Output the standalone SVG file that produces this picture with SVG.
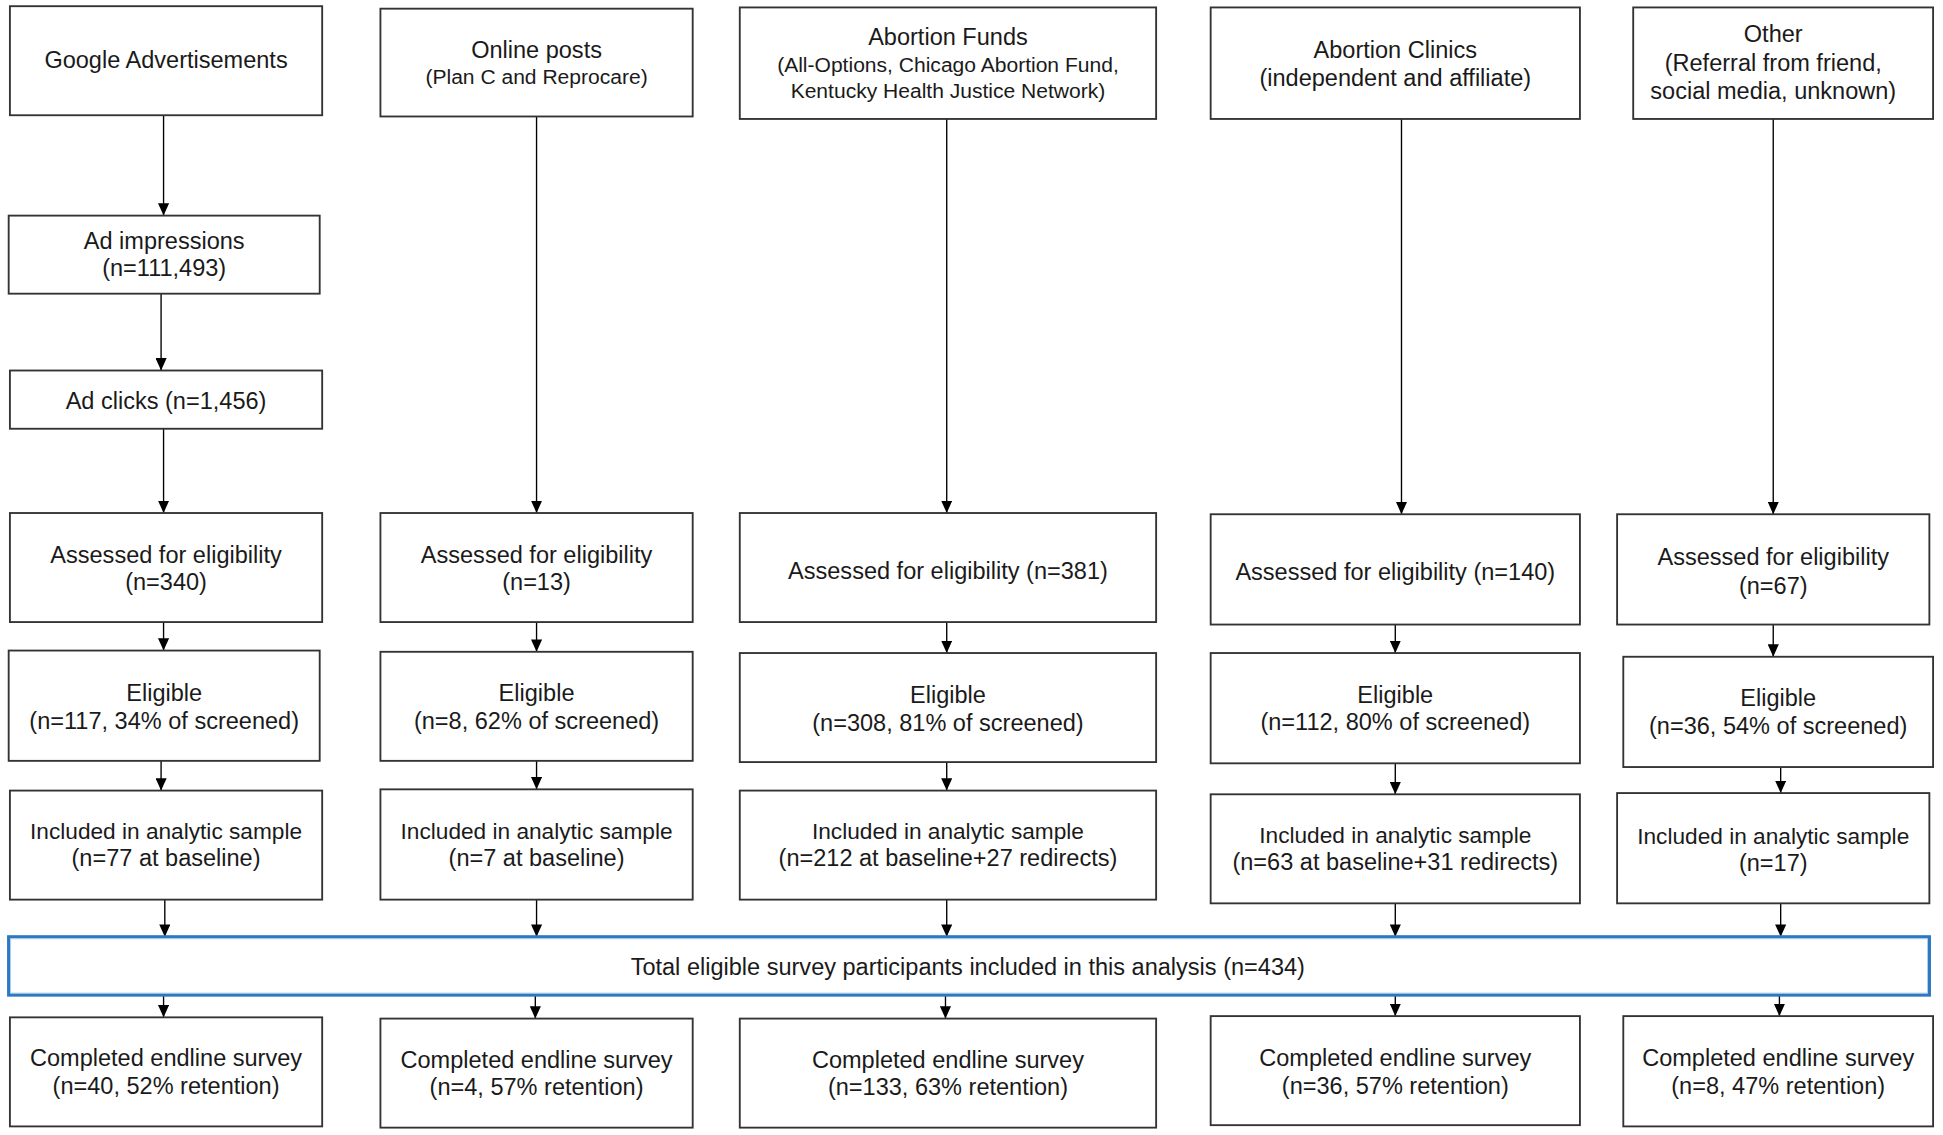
<svg xmlns="http://www.w3.org/2000/svg" width="1943" height="1135" viewBox="0 0 1943 1135">
<defs>
<marker id="ah" markerUnits="userSpaceOnUse" markerWidth="10" markerHeight="9" refX="10" refY="4.5" orient="auto">
<path d="M0,0 L10,4.5 L0,9 z" fill="#000"/>
</marker>
<style>
.b{fill:#fff;stroke:#333;stroke-width:1.5}
.t{font-family:"Liberation Sans",Arial,sans-serif;font-size:19px;fill:#1a1a1a;text-anchor:middle}
.s{font-size:17px}
.i{font-size:18.3px}
.c{stroke:#000;stroke-width:1.1;fill:none;marker-end:url(#ah)}
</style>
</defs>
<rect width="1943" height="1135" fill="#fff"/>
<g transform="scale(1.23916)">
<g id="connectors">
<line class="c" x1="132" y1="93" x2="132" y2="174"/>
<line class="c" x1="130" y1="237" x2="130" y2="299"/>
<line class="c" x1="132" y1="346" x2="132" y2="414"/>
<line class="c" x1="132" y1="502" x2="132" y2="525"/>
<line class="c" x1="130" y1="614" x2="130" y2="638"/>
<line class="c" x1="133" y1="726" x2="133" y2="756"/>
<line class="c" x1="132" y1="803" x2="132" y2="821"/>
<line class="c" x1="433" y1="94" x2="433" y2="414"/>
<line class="c" x1="433" y1="502" x2="433" y2="526"/>
<line class="c" x1="433" y1="614" x2="433" y2="637"/>
<line class="c" x1="433" y1="726" x2="433" y2="756"/>
<line class="c" x1="432" y1="803" x2="432" y2="822"/>
<line class="c" x1="764" y1="96" x2="764" y2="414"/>
<line class="c" x1="764" y1="502" x2="764" y2="527"/>
<line class="c" x1="764" y1="615" x2="764" y2="638"/>
<line class="c" x1="764" y1="726" x2="764" y2="756"/>
<line class="c" x1="763" y1="803" x2="763" y2="822"/>
<line class="c" x1="1131" y1="96" x2="1131" y2="415"/>
<line class="c" x1="1126" y1="504" x2="1126" y2="527"/>
<line class="c" x1="1126" y1="616" x2="1126" y2="641"/>
<line class="c" x1="1126" y1="729" x2="1126" y2="756"/>
<line class="c" x1="1126" y1="803" x2="1126" y2="820"/>
<line class="c" x1="1431" y1="96" x2="1431" y2="415"/>
<line class="c" x1="1431" y1="504" x2="1431" y2="530"/>
<line class="c" x1="1437" y1="619" x2="1437" y2="640"/>
<line class="c" x1="1437" y1="729" x2="1437" y2="756"/>
<line class="c" x1="1436" y1="803" x2="1436" y2="820"/>
</g>
<g id="google"><rect class="b" x="8" y="5" width="252" height="88"/><text class="t" x="134" y="55">Google Advertisements</text></g>
<g id="impressions"><rect class="b" x="7" y="174" width="251" height="63"/><text class="t" x="132.5" y="201">Ad impressions</text><text class="t" x="132.5" y="223">(n=111,493)</text></g>
<g id="clicks"><rect class="b" x="8" y="299" width="252" height="47"/><text class="t" x="134" y="330">Ad clicks (n=1,456)</text></g>
<g id="g-assessed"><rect class="b" x="8" y="414" width="252" height="88"/><text class="t" x="134" y="454">Assessed for eligibility</text><text class="t" x="134" y="476">(n=340)</text></g>
<g id="g-eligible"><rect class="b" x="7" y="525" width="251" height="89"/><text class="t" x="132.5" y="566">Eligible</text><text class="t" x="132.5" y="588">(n=117, 34% of screened)</text></g>
<g id="g-included"><rect class="b" x="8" y="638" width="252" height="88"/><text class="t i" x="134" y="677">Included in analytic sample</text><text class="t" x="134" y="699">(n=77 at baseline)</text></g>
<g id="g-completed"><rect class="b" x="8" y="821" width="252" height="88"/><text class="t" x="134" y="860">Completed endline survey</text><text class="t" x="134" y="883">(n=40, 52% retention)</text></g>

<g id="online"><rect class="b" x="307" y="7" width="252" height="87"/><text class="t" x="433" y="47">Online posts</text><text class="t s" x="433" y="68">(Plan C and Reprocare)</text></g>
<g id="o-assessed"><rect class="b" x="307" y="414" width="252" height="88"/><text class="t" x="433" y="454">Assessed for eligibility</text><text class="t" x="433" y="476">(n=13)</text></g>
<g id="o-eligible"><rect class="b" x="307" y="526" width="252" height="88"/><text class="t" x="433" y="566">Eligible</text><text class="t" x="433" y="588">(n=8, 62% of screened)</text></g>
<g id="o-included"><rect class="b" x="307" y="637" width="252" height="89"/><text class="t i" x="433" y="677">Included in analytic sample</text><text class="t" x="433" y="699">(n=7 at baseline)</text></g>
<g id="o-completed"><rect class="b" x="307" y="822" width="252" height="88"/><text class="t" x="433" y="862">Completed endline survey</text><text class="t" x="433" y="884">(n=4, 57% retention)</text></g>

<g id="funds"><rect class="b" x="597" y="6" width="336" height="90"/><text class="t" x="765" y="36">Abortion Funds</text><text class="t s" x="765" y="58">(All-Options, Chicago Abortion Fund,</text><text class="t s" x="765" y="79">Kentucky Health Justice Network)</text></g>
<g id="f-assessed"><rect class="b" x="597" y="414" width="336" height="88"/><text class="t" x="765" y="467">Assessed for eligibility (n=381)</text></g>
<g id="f-eligible"><rect class="b" x="597" y="527" width="336" height="88"/><text class="t" x="765" y="567">Eligible</text><text class="t" x="765" y="590">(n=308, 81% of screened)</text></g>
<g id="f-included"><rect class="b" x="597" y="638" width="336" height="88"/><text class="t i" x="765" y="677">Included in analytic sample</text><text class="t" x="765" y="699">(n=212 at baseline+27 redirects)</text></g>
<g id="f-completed"><rect class="b" x="597" y="822" width="336" height="88"/><text class="t" x="765" y="862">Completed endline survey</text><text class="t" x="765" y="884">(n=133, 63% retention)</text></g>

<g id="clinics"><rect class="b" x="977" y="6" width="298" height="90"/><text class="t" x="1126" y="47">Abortion Clinics</text><text class="t" x="1126" y="69">(independent and affiliate)</text></g>
<g id="c-assessed"><rect class="b" x="977" y="415" width="298" height="89"/><text class="t" x="1126" y="468">Assessed for eligibility (n=140)</text></g>
<g id="c-eligible"><rect class="b" x="977" y="527" width="298" height="89"/><text class="t" x="1126" y="567">Eligible</text><text class="t" x="1126" y="589">(n=112, 80% of screened)</text></g>
<g id="c-included"><rect class="b" x="977" y="641" width="298" height="88"/><text class="t i" x="1126" y="680">Included in analytic sample</text><text class="t" x="1126" y="702">(n=63 at baseline+31 redirects)</text></g>
<g id="c-completed"><rect class="b" x="977" y="820" width="298" height="88"/><text class="t" x="1126" y="860">Completed endline survey</text><text class="t" x="1126" y="883">(n=36, 57% retention)</text></g>

<g id="other"><rect class="b" x="1318" y="6" width="242" height="90"/><text class="t" x="1431" y="34">Other</text><text class="t" x="1431" y="57">(Referral from friend,</text><text class="t" x="1431" y="80">social media, unknown)</text></g>
<g id="x-assessed"><rect class="b" x="1305" y="415" width="252" height="89"/><text class="t" x="1431" y="456">Assessed for eligibility</text><text class="t" x="1431" y="479">(n=67)</text></g>
<g id="x-eligible"><rect class="b" x="1310" y="530" width="250" height="89"/><text class="t" x="1435" y="570">Eligible</text><text class="t" x="1435" y="592">(n=36, 54% of screened)</text></g>
<g id="x-included"><rect class="b" x="1305" y="640" width="252" height="89"/><text class="t i" x="1431" y="681">Included in analytic sample</text><text class="t" x="1431" y="703">(n=17)</text></g>
<g id="x-completed"><rect class="b" x="1310" y="820" width="250" height="89"/><text class="t" x="1435" y="860">Completed endline survey</text><text class="t" x="1435" y="883">(n=8, 47% retention)</text></g>

<g id="total"><rect x="7" y="756" width="1550" height="47" fill="#fff" stroke="#2E78C2" stroke-width="2.6"/><rect x="8.6" y="757.6" width="1546.8" height="43.8" fill="none" stroke="#A9CBEA" stroke-width="0.7"/><text class="t" x="781" y="787">Total eligible survey participants included in this analysis (n=434)</text></g>
</g>
</svg>
